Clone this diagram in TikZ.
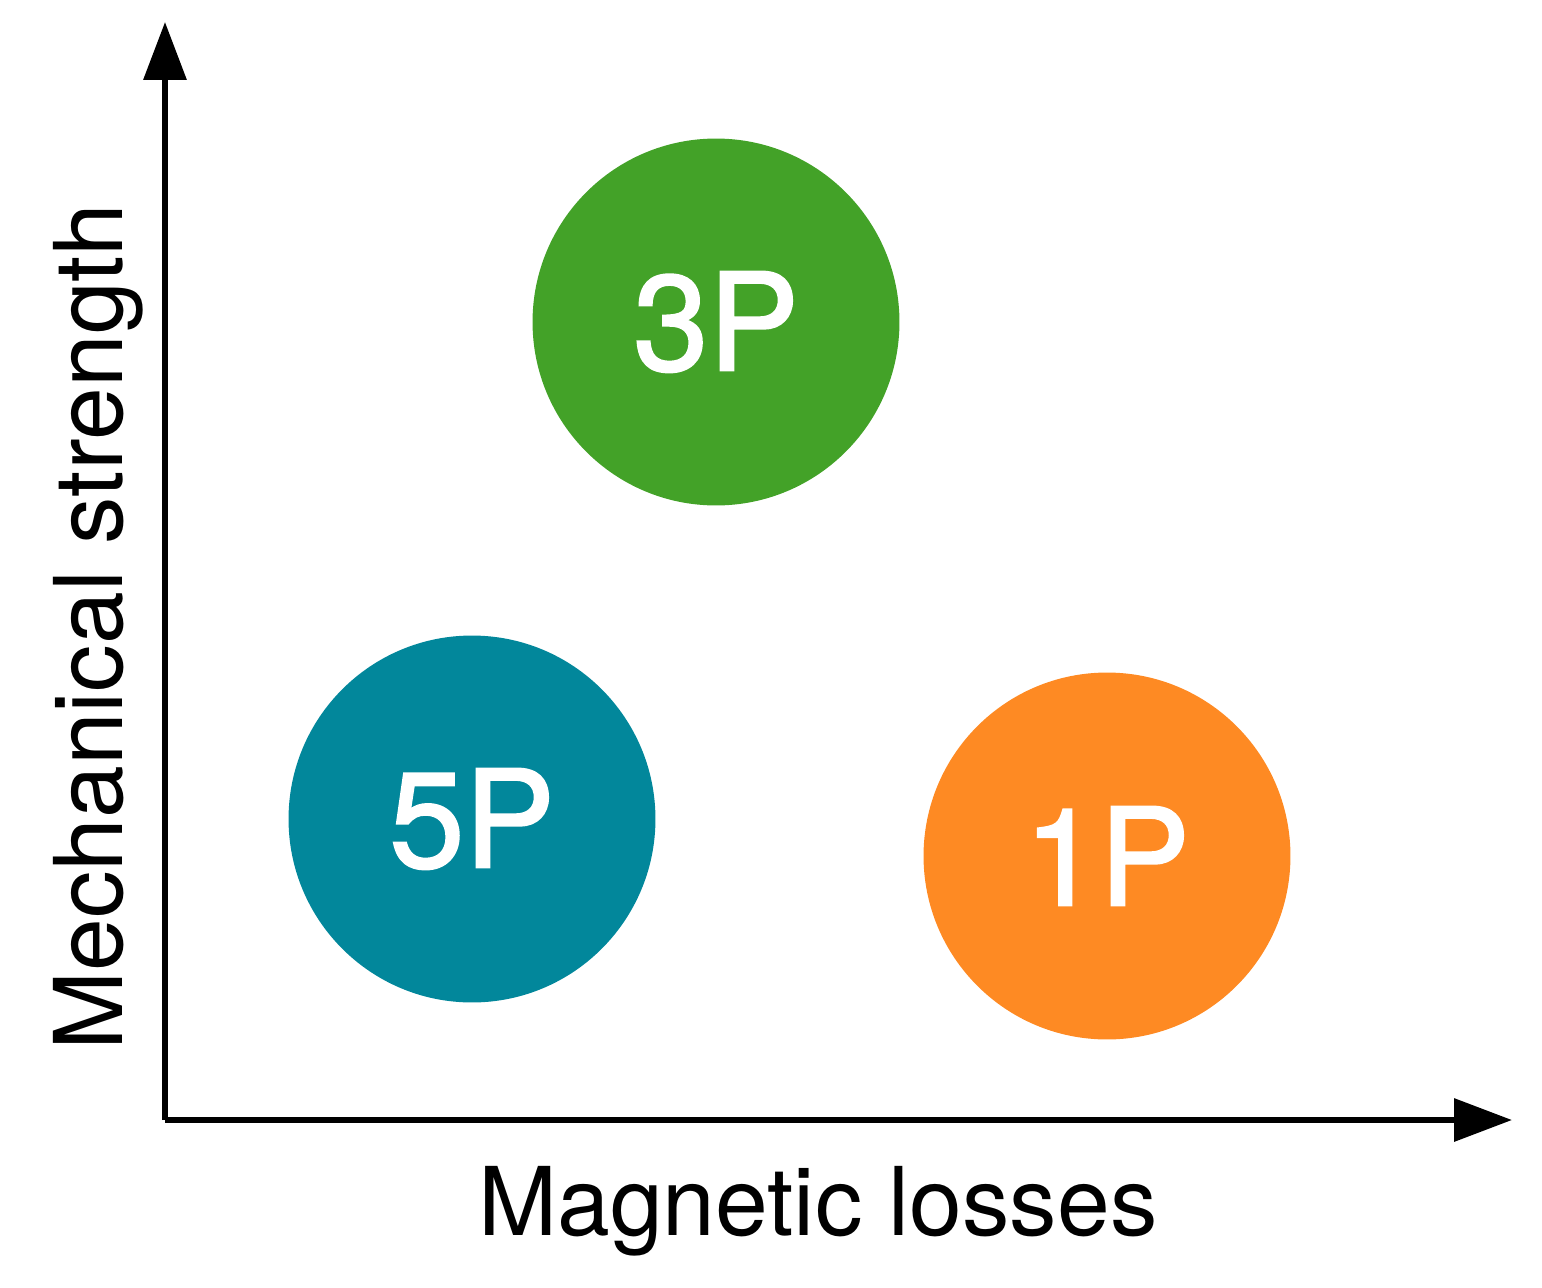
\documentclass[tikz,border=0pt]{standalone}
\usepackage{fontspec}
\setmainfont{TeX Gyre Heros}
\newfontfamily\gradefont{TeX Gyre Heros}[FakeBold=1.6]
\usetikzlibrary{arrows.meta}

\definecolor{green3P}{HTML}{43A228}
\definecolor{teal5P}{HTML}{02879B}
\definecolor{orange1P}{HTML}{FE8A23}

\tikzset{
  axis/.style={line width=3.4pt, -{Triangle[length=33pt, width=24pt]}},
  bubble/.style={circle, minimum size=7.34cm, inner sep=0pt, text=white,
    font=\gradefont\fontsize{77}{84}\selectfont},
  axislabel/.style={inner sep=0pt, anchor=base, font=\fontsize{54}{60}\selectfont}
}

\begin{document}
\begin{tikzpicture}[x=0.02cm, y=-0.02cm]
    \useasboundingbox (0,0) rectangle (1542,1288);

    % Axes
    \coordinate (origin) at (165,1120);
    \coordinate (ytip) at (165,22);
    \coordinate (xtip) at (1512,1120);
    \draw[axis] (origin) -- (ytip);
    \draw[axis] (origin) -- (xtip);
    \node[axislabel] (xlabel) at (818,1235) {Magnetic losses};
    \node[axislabel, rotate=90] (ylabel) at (122,627) {Mechanical strength};

    % Grades
    \node[bubble, fill=green3P] (p3) at (716,322) {3P};
    \node[bubble, fill=teal5P] (p5) at (472,819) {5P};
    \node[bubble, fill=orange1P] (p1) at (1107,856) {1P};

\end{tikzpicture}
\end{document}
